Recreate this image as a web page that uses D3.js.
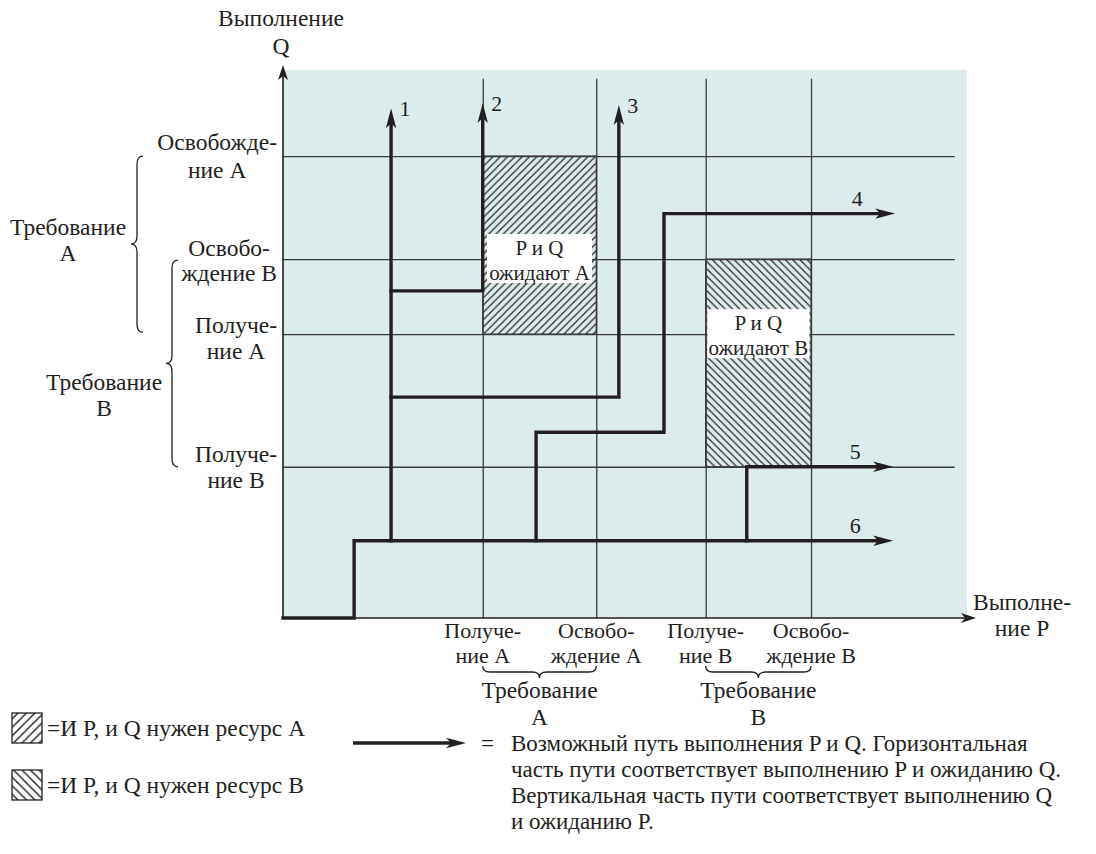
<!DOCTYPE html>
<html>
<head>
<meta charset="utf-8">
<script src="https://cdn.jsdelivr.net/npm/d3@7"></script>
<style>
  html, body { margin: 0; padding: 0; background: #ffffff; }
  svg { display: block; }
</style>
</head>
<body>
<svg id="chart" width="1096" height="854"></svg>
<script>
// ---------------- DATA ----------------
// Progress of P (x) and Q (y) in arbitrary units 0..100
const xTicks = [29.2, 45.8, 61.8, 77.2];
const xTickLabels = [["Получе-", "ние A"], ["Освобо-", "ждение A"], ["Получе-", "ние B"], ["Освобо-", "ждение B"]];
const yTicks = [27.6, 51.8, 65.5, 84.3];
const yTickLabels = [["Получе-", "ние B"], ["Получе-", "ние A"], ["Освобо-", "ждение B"], ["Освобожде-", "ние A"]];

const xRequests = [["Требование", "A"], ["Требование", "B"]];
const yRequests = [["Требование", "A"], ["Требование", "B"]];

const pathNames = ["1", "2", "3", "4", "5", "6"];
const path1 = [[15.8, 14.1], [15.8, 93.0]];
const path2 = [[15.8, 59.7], [29.2, 59.7], [29.2, 94.0]];
const path3 = [[15.8, 40.3], [49.1, 40.3], [49.1, 93.6]];
const path4 = [[37.0, 14.1], [37.0, 33.9], [55.7, 33.9], [55.7, 73.8], [89.5, 73.8]];
const path5 = [[67.8, 14.1], [67.8, 27.6], [89.2, 27.6]];
const path6 = [[0, 0], [10.4, 0], [10.4, 14.1], [89.2, 14.1]];

const waitLabels = [["P и Q", "ожидают A"], ["P и Q", "ожидают B"]];
const legendLabels = ["=И P, и Q нужен ресурс A", "=И P, и Q нужен ресурс B"];
const legendPathText = [
  "Возможный путь выполнения P и Q. Горизонтальная",
  "часть пути соответствует выполнению P и ожиданию Q.",
  "Вертикальная часть пути соответствует выполнению Q",
  "и ожиданию P."
];
const axisTitleY = ["Выполнение", "Q"];
const axisTitleX = ["Выполне-", "ние P"];

// ---------------- SETUP ----------------
const FONT = "Liberation Serif";
const svg = d3.select("#chart");
const x = d3.scaleLinear().domain([0, 100]).range([283, 967]);
const y = d3.scaleLinear().domain([0, 100]).range([618, 70]);
const INK = "#231f20";
const GRID = "#3b3b3b";
const BG = "#dcebeb";
const FS = 23.5;

function txt(g, xx, yy, s, size, anchor) {
  return g.append("text").attr("x", xx).attr("y", yy)
    .attr("text-anchor", anchor || "middle")
    .attr("font-family", FONT)
    .style("font-family", '"' + FONT + '"').style("font-size", (size || FS) + "px")
    .attr("fill", INK).text(s);
}

// patterns
const defs = svg.append("defs");
function hatch(id, dir, s, w) {
  const p = defs.append("pattern").attr("id", id).attr("patternUnits", "userSpaceOnUse")
    .attr("width", s).attr("height", s);
  const d = dir === "f"
    ? `M-1,1 l2,-2 M0,${s} l${s},${-s} M${s - 1},${s + 1} l2,-2`
    : `M-1,${s - 1} l2,2 M0,0 l${s},${s} M${s - 1},-1 l2,2`;
  p.append("path").attr("d", d).attr("stroke", INK).attr("stroke-width", w);
}
hatch("hA", "f", 7.3, 1.15);
hatch("hB", "b", 7.3, 1.15);
hatch("hAL", "f", 8.5, 1.4);
hatch("hBL", "b", 8.5, 1.4);

// background
svg.append("rect").attr("x", x(0)).attr("y", y(100)).attr("width", x(100) - x(0)).attr("height", y(0) - y(100))
  .attr("fill", BG);

// hatched regions
const regions = [
  { x0: xTicks[0], x1: xTicks[1], y0: yTicks[1], y1: yTicks[3], pat: "hA" },
  { x0: xTicks[2], x1: xTicks[3], y0: yTicks[0], y1: yTicks[2], pat: "hB" }
];
svg.selectAll("rect.region").data(regions).join("rect").attr("class", "region")
  .attr("x", d => x(d.x0)).attr("y", d => y(d.y1))
  .attr("width", d => x(d.x1) - x(d.x0)).attr("height", d => y(d.y0) - y(d.y1))
  .attr("fill", d => `url(#${d.pat})`);

// grid via axes
const gridTop = 98.4, gridRight = 98.2;
const gx = svg.append("g").attr("transform", `translate(0,${y(0)})`)
  .call(d3.axisBottom(x).tickValues(xTicks).tickSize(-(y(0) - y(gridTop))).tickFormat(""));
gx.select(".domain").remove();
gx.selectAll("line").attr("stroke", GRID).attr("stroke-width", 1.3);
const gy = svg.append("g").attr("transform", `translate(${x(0)},0)`)
  .call(d3.axisLeft(y).tickValues(yTicks).tickSize(-(x(gridRight) - x(0))).tickFormat(""));
gy.select(".domain").remove();
gy.selectAll("line").attr("stroke", GRID).attr("stroke-width", 1.3);

// white label boxes inside hatched regions
const boxes = [
  { cx: (xTicks[0] + xTicks[1]) / 2, cy: yTicks[2], w: 105, lines: waitLabels[0] },
  { cx: (xTicks[2] + xTicks[3]) / 2, cy: yTicks[1], w: 102, lines: waitLabels[1] }
];
const boxG = svg.append("g");
boxes.forEach(b => {
  boxG.append("rect").attr("x", x(b.cx) - b.w / 2).attr("y", y(b.cy) - 25).attr("width", b.w).attr("height", 49)
    .attr("fill", "#ffffff");
});

// outlines of hatched regions
svg.selectAll("rect.regionOutline").data(regions).join("rect").attr("class", "regionOutline")
  .attr("x", d => x(d.x0)).attr("y", d => y(d.y1))
  .attr("width", d => x(d.x1) - x(d.x0)).attr("height", d => y(d.y0) - y(d.y1))
  .attr("fill", "none").attr("stroke", GRID).attr("stroke-width", 1.3);

boxes.forEach(b => {
  b.lines.forEach((t, i) => txt(boxG, x(b.cx), y(b.cy) - 4 + i * 25, t, 21));
});

// arrowhead helper
function arrowHead(g, tipX, tipY, angle, len, half, notch, color) {
  const pts = [[0, 0], [-len, -half], [-notch, 0], [-len, half]];
  g.append("path")
    .attr("d", "M" + pts.map(p => p.join(",")).join("L") + "Z")
    .attr("transform", `translate(${tipX},${tipY}) rotate(${angle})`)
    .attr("fill", color);
}

// main axes
const axG = svg.append("g");
axG.append("line").attr("x1", x(0)).attr("y1", y(0)).attr("x2", x(0)).attr("y2", y(100) - 2)
  .attr("stroke", INK).attr("stroke-width", 1.6);
arrowHead(axG, x(0), y(100) - 5, -90, 15, 5, 11, INK);
axG.append("line").attr("x1", x(0)).attr("y1", y(0)).attr("x2", x(100) + 2).attr("y2", y(0))
  .attr("stroke", INK).attr("stroke-width", 1.6);
arrowHead(axG, x(100) + 9, y(0), 0, 15, 5, 11, INK);

// execution paths
const allPaths = [path1, path2, path3, path4, path5, path6];
const pg = svg.append("g");
allPaths.forEach((pts, i) => {
  const n = pts.length;
  const a = pts[n - 2], b = pts[n - 1];
  const tx = x(b[0]), ty = y(b[1]);
  const ax = x(a[0]), ay = y(a[1]);
  const ang = Math.atan2(ty - ay, tx - ax) * 180 / Math.PI;
  const L = Math.hypot(tx - ax, ty - ay);
  const shortened = pts.slice(0, n - 1).map(p => [x(p[0]), y(p[1])]);
  const cut = 14;
  shortened.push([tx - (tx - ax) / L * cut, ty - (ty - ay) / L * cut]);
  pg.append("path").attr("d", d3.line()(shortened)).attr("fill", "none")
    .attr("stroke", INK).attr("stroke-width", 3.4).attr("stroke-linejoin", "miter").attr("stroke-linecap", "square");
  arrowHead(pg, tx, ty, ang, 20, 5.2, 15, INK);
  const vertical = Math.abs(ang + 90) < 1;
  txt(pg, vertical ? tx + 14 : tx - 38, vertical ? ty + 8 : ty - 8, pathNames[i], 22);
});

// ---------------- TEXT LABELS ----------------
function multi(g, cx, baseline, lines, lh, size) {
  lines.forEach((t, i) => txt(g, cx, baseline + i * lh, t, size));
}
const tg = svg.append("g");

// axis titles
multi(tg, 281, 26, axisTitleY, 28);
multi(tg, 1022, 610, axisTitleX, 26);

// x tick labels
xTicks.forEach((v, i) => multi(tg, x(v), 638, xTickLabels[i], 25, 22));

// y tick labels: block right-aligned near x=277, lines centred
const yOffsets = [[-5, 21], [-1, 25], [-3, 22], [-6, 22]];
yTicks.forEach((v, i) => {
  const lines = yTickLabels[i];
  const tmp = txt(tg, 0, 0, "", FS);
  const w = Math.max(...lines.map(t => { tmp.text(t); return tmp.node().getComputedTextLength(); }));
  tmp.remove();
  const cx = 277 - w / 2;
  lines.forEach((t, j) => txt(tg, cx, y(v) + yOffsets[i][j], t));
});

// curly braces
function braceV(x0, y1, y2, w) {
  const ym = (y1 + y2) / 2, r = 8;
  return `M${x0 + w / 2},${y1} Q${x0},${y1} ${x0},${y1 + r} L${x0},${ym - r} Q${x0},${ym} ${x0 - w / 2},${ym} ` +
    `Q${x0},${ym} ${x0},${ym + r} L${x0},${y2 - r} Q${x0},${y2} ${x0 + w / 2},${y2}`;
}
function braceH(y0, x1, x2, h) {
  const xm = (x1 + x2) / 2, r = 7;
  return `M${x1},${y0 - h / 2} Q${x1},${y0} ${x1 + r},${y0} L${xm - r},${y0} Q${xm},${y0} ${xm},${y0 + h / 2} ` +
    `Q${xm},${y0} ${xm + r},${y0} L${x2 - r},${y0} Q${x2},${y0} ${x2},${y0 - h / 2}`;
}
const bg = svg.append("g").attr("fill", "none").attr("stroke", INK).attr("stroke-width", 1.3);
bg.append("path").attr("d", braceV(137, y(yTicks[3]), y(yTicks[1]) - 2, 12));
bg.append("path").attr("d", braceV(172, y(yTicks[2]) + 1, y(yTicks[0]), 12));
bg.append("path").attr("d", braceH(672, x(xTicks[0]), x(xTicks[1]), 12));
bg.append("path").attr("d", braceH(672, x(xTicks[2]), x(xTicks[3]), 12));

// request labels
multi(tg, 68, 235, yRequests[0], 26);
multi(tg, 104, 390, yRequests[1], 26);
multi(tg, x((xTicks[0] + xTicks[1]) / 2), 698, xRequests[0], 27);
multi(tg, x((xTicks[2] + xTicks[3]) / 2), 698, xRequests[1], 27);

// ---------------- LEGEND ----------------
const lg = svg.append("g");
[["hAL", 713], ["hBL", 770]].forEach(([pat, yy], i) => {
  lg.append("rect").attr("x", 12).attr("y", yy).attr("width", 30).attr("height", 30)
    .attr("fill", `url(#${pat})`).attr("stroke", INK).attr("stroke-width", 1.3);
  txt(lg, 47, yy + 23, legendLabels[i], 23.5, "start");
});
lg.append("line").attr("x1", 353).attr("x2", 452).attr("y1", 743).attr("y2", 743)
  .attr("stroke", INK).attr("stroke-width", 3.4);
arrowHead(lg, 466, 743, 0, 20, 5.2, 15, INK);
txt(lg, 481, 751, "=", 23, "start");
legendPathText.forEach((t, i) => txt(lg, 511, 751 + i * 26, t, 23, "start"));
</script>
</body>
</html>
